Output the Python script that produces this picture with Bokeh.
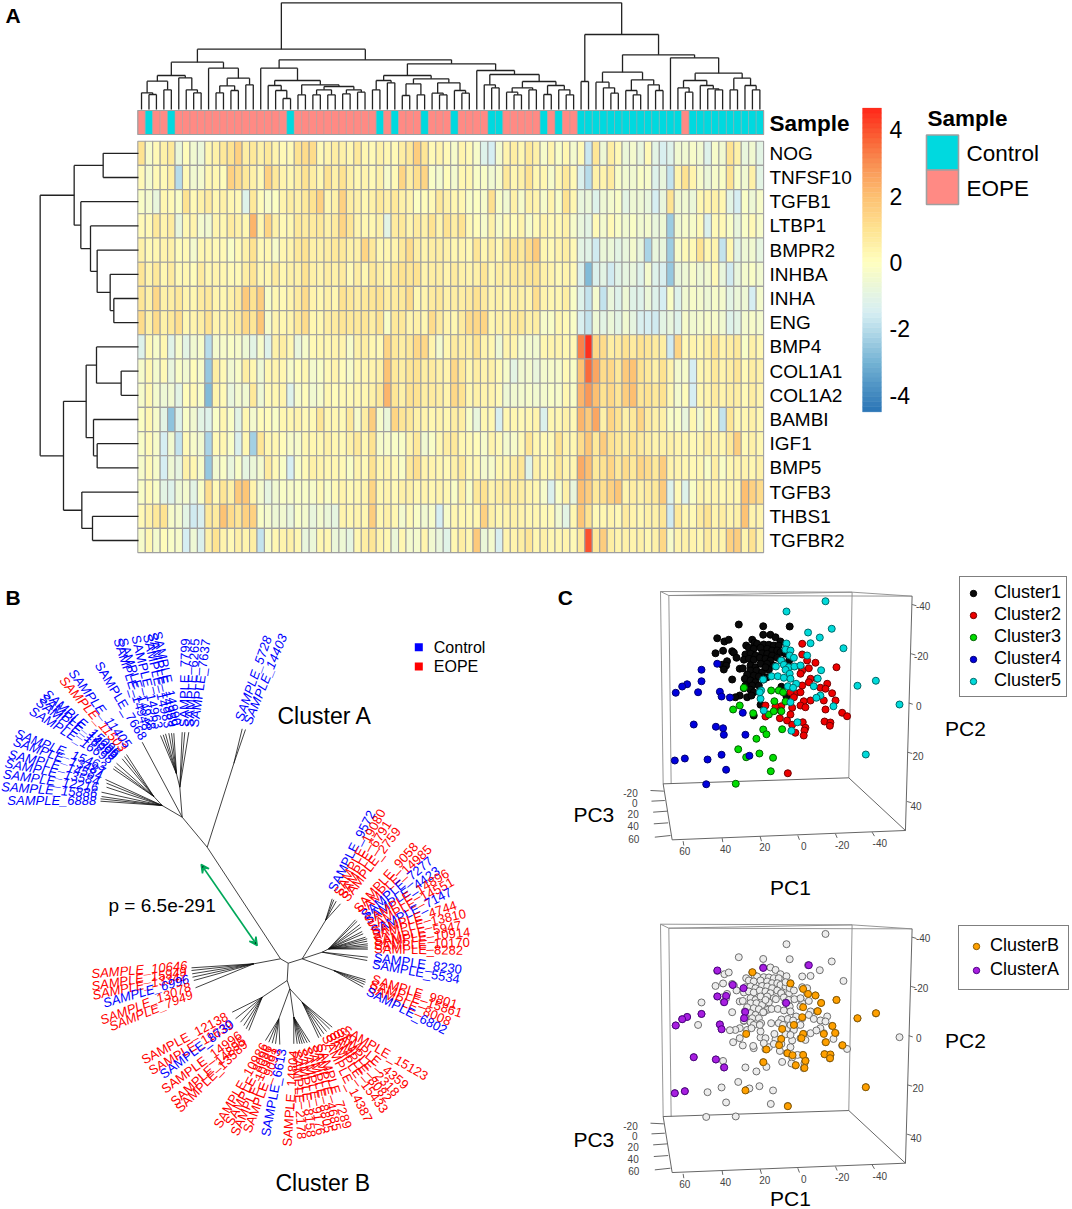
from bokeh.plotting import figure
from bokeh.layouts import column, row
from bokeh.models import Arrow, VeeHead, Legend, LegendItem, Range1d
from bokeh.core.properties import value
from bokeh.embed import file_html
from bokeh.resources import INLINE

# ---------------------------------------------------------------- panel A data
genes = ["NOG","TNFSF10","TGFB1","LTBP1","BMPR2","INHBA","INHA","ENG","BMP4","COL1A1","COL1A2","BAMBI","IGF1","BMP5","TGFB3","THBS1","TGFBR2"]
control_samples = [1,4,20,32,34,38,42,47,48,54,56,59,60,61,62,63,64,65,66,67,68,69,70,71,72,74,75,76,77,78,79,80,81,82,83]

NOG = [1,-.3,.2,.5,.8,-.7,.1,-.5,-.7,.3,.5,.8,1,1.5,.6,.8,.5,.8,.4,.2,.2,1,1.2,1.2,.2,.4,.6,.5,.3,.8,.3,.2,.5,.3,.2,.6,.8,1.6,.9,.2,.4,.2,-.3,.4,
       .2,-.3,-1.2,-1.5,-.4,.4,.6,.3,.8,.5,-.3,.4,-.2,.3,-.4,.2,-1.7,.9,-.6,.6,.2,-.7,-.4,-.8,.2,-1,-1.4,-1.2,-.5,-.5,-.3,-.5,-1.2,-.3,-.5,1,.5,-.8,-.5,-1]
TNFSF10 = [.2,-.4,.2,.2,.6,-2,.2,-.5,-.4,.3,.3,.1,1.5,1.2,.8,.5,.2,1.5,.8,.4,.3,.6,1,.6,.3,1,.5,1,.5,.3,.4,.2,.5,-.3,.2,1.4,.6,1.1,1.4,-.2,-.4,.1,-.4,.3,
           .3,-.2,-.2,-.5,-.3,.8,.3,.5,1,.3,.3,-.3,.3,.8,.2,-1.3,-2,.5,.4,.7,-.2,-.5,-.5,-.2,-.3,-1.2,-.8,-1.8,.4,1,.4,-.3,-.7,-.3,-.2,1,-.2,-.5,.5,-1]
TGFB1 = [-.2,-.4,-.8,.3,.2,-.2,1,.2,.5,.7,.3,.5,.3,.2,-1.2,.8,.1,-.3,-.1,.4,.6,.5,.8,1,1.5,.3,.5,1.5,.6,.5,.3,.5,.8,.5,.8,.5,.4,-.1,.1,.2,.8,.5,.3,.3,
         -.2,-.1,-.3,1.1,-.2,-.5,.5,-.3,.5,.4,-.3,.4,-.2,1,.3,-.8,-.7,-1.2,-.6,-.4,-.2,-1,-.6,-.6,-.8,-1.5,-.8,1,-.5,-.5,-.7,.3,.4,.5,.3,-1,-1.5,-.2,-.6,-.3]
LTBP1 = [.2,.2,.8,.4,.7,-.8,.3,.4,-.4,-.5,.4,.3,.7,.5,.3,2.2,.3,1.4,.5,.2,.3,.8,.7,.7,.8,.5,.7,1.4,.9,.4,.3,.3,.5,-1,.7,.8,.4,.7,.5,1,.4,1,.6,1,
         .2,.1,-.3,.5,-.3,.2,.1,.4,-.3,.2,.4,.2,.2,.5,-.3,-.8,-1,.2,-.4,.2,-.2,-.5,-.2,-.5,-.4,-.8,-.6,-2.4,-.5,-.3,-.3,.2,-1.3,.2,.2,-.2,-.8,-.2,.2,-.3]
BMPR2 = [.5,.2,.3,.4,.5,.1,.2,-.4,.3,.3,.2,.2,-.2,.2,.5,1,.2,.3,-.3,.3,.4,.8,1,.5,.5,.6,.8,.8,.5,.5,1.4,.8,.3,.3,.4,.8,1.2,.6,.4,.6,.6,.5,.3,.4,
         .2,.9,.3,.6,.2,.8,1,.8,1.2,1.7,.3,.2,.4,.6,.2,-1,-1.1,-1.6,-.7,-.7,-1,-.8,-.4,-.8,-2.2,-.8,-.8,-2.4,-.3,.2,.2,1,.3,.4,-1.8,.3,-1,-.6,-.5,-.9]
INHBA = [.9,.4,.8,.3,.7,.2,.3,.1,.7,.3,.4,.3,.2,.2,.6,.9,.3,.3,.7,.3,.5,.5,1,.5,.4,.6,.5,.7,.2,.6,.3,.8,.6,.3,.8,1,.9,1,.4,.6,.6,.4,.7,.5,
         .4,.5,.9,.3,.6,.5,.8,.7,.9,1,.5,.4,.2,.4,.2,-1.3,-2.8,-1.3,-1,-1.6,-1.1,-.9,-.8,-1.2,-.4,-1.2,-1.4,-2.5,-.8,-.6,-.3,-.6,-.5,.2,-.8,-1.6,-.8,-.4,-.2,-.5]
INHA = [.9,.5,1.3,.5,.6,.8,.4,.3,.7,.8,.4,.3,.5,.7,1.7,1,1.6,-.2,.3,.2,.4,.7,1.2,.4,.3,.5,.3,1,.8,.6,.8,.9,1,.6,.7,.8,1.2,.3,.4,.7,.8,.5,.6,.6,
        .7,1,.7,.4,.5,.3,.6,.5,.4,1.1,.4,.3,.3,.6,-.2,-1.2,-1.8,-.4,-1.8,-.8,-1.2,-.6,-1.1,-1.2,-.7,-1.2,-1.5,-.2,-1.2,-.5,-.3,-.4,-.6,-.3,-.4,-1,-.7,-.6,-1.5,-.4]
ENG = [1.2,.5,1.2,.5,.8,1.1,.3,.4,.6,1,.4,.4,.5,.7,1.3,.9,1.8,-.3,.4,.3,.4,.8,1.2,.3,.3,.6,.7,.9,.8,.8,.9,.6,1,-.2,.8,.8,.4,.5,.3,1.2,.7,.4,.3,.7,
       1.2,1.3,1.4,.3,.5,.4,.8,.8,.5,.6,-.3,-.2,.3,.2,-.2,-1.4,-1.8,-.6,-1,-.7,-1,-.5,-.9,-1.4,-1.5,-1.6,-1,-.8,-1.2,-.3,-.5,-.4,-.3,-.3,-.5,-1.2,-1,-.4,-.3,-.4]
BMP4 = [-1.2,.2,-.3,.3,-1.1,-.3,-1,-.5,-.3,-2,-.4,-.3,-.2,-.3,-.6,-1,-.3,-1.2,.5,.6,.3,-.8,-.3,.2,.3,.3,.4,.4,-.3,.5,.6,.3,.2,1.4,.8,.6,.8,1.3,1.3,.4,-.4,.3,.7,.6,
        .5,1,.4,.3,-.6,.4,.4,-.3,-.4,-.5,.3,.4,.4,.3,.2,3.2,4.5,1.3,1.2,.6,.7,1,.7,1,.9,.7,.6,-1.6,1.4,.2,.4,.3,.5,1,.4,.6,.8,-.2,.5,.3]
COL1A1 = [-.3,.3,-.4,.2,-.8,-.2,-.5,.1,-.3,-2.5,.6,.2,-.5,-.2,.6,.3,-.6,.3,.4,.3,-.3,.1,.3,-.4,-.2,.2,.4,.1,-.3,.3,.3,.4,.5,1.9,.8,.6,.9,1,.6,.7,.5,.4,1.3,.8,
          .3,.6,.4,.5,.2,-.3,-1,-.5,-.4,-.8,-.4,-.3,-.3,.2,-.2,1.9,3.6,2.5,1.2,1.3,.8,1.7,1.9,1,.8,.5,1,.4,-.4,-.3,-1.5,.3,.4,.8,.4,.6,.9,.2,.6,.5]
COL1A2 = [-.3,.3,-.4,-.6,-.5,-1,.1,.2,-.2,-2.8,.4,.2,-.8,-.4,-.5,.8,-.6,.2,.3,.4,-1.2,-.3,.1,-.5,-.3,.3,.1,.2,.2,.3,.3,.5,.8,2.2,.9,.5,1,1,.6,.7,.6,.4,1.3,1,
          .3,.5,.4,.4,.2,-.6,-.5,-.4,-.3,-.5,-.4,-.2,-.3,.3,-.2,2.2,2.8,2,1,1.3,.9,1.6,2,.9,1,.8,1,.3,-.4,.1,-1.5,.3,.4,.7,.4,.6,.6,.2,.6,.4]
BAMBI = [-.1,.3,-.3,-1,-2.6,-1.2,-.2,-.5,-1,-1.2,-.2,.3,-.2,-1,.3,-.4,.1,.1,-.2,.3,.3,.4,.2,.2,.9,.3,.3,.2,.8,-.3,.6,1.6,-.3,-.7,1.4,.9,.8,.5,.4,.3,.4,.3,.6,.6,
         -.2,-.8,.3,.3,-1.4,.3,.3,.2,.3,.4,-1.3,.3,.3,.5,.2,2.2,1.7,2.5,.5,1.4,1,.5,.8,1.4,.7,.5,.5,-.2,-.2,-.8,.3,-.5,.3,.2,-1.8,.9,.3,.3,.5,.3]
IGF1 = [-.2,.2,-.3,-1.5,-.5,-1.8,.2,-.3,-.5,-2.2,.2,.3,-.2,-1.3,.3,-2.3,.9,.3,.3,.1,-.3,-.3,.3,.3,.3,.5,.3,.2,.5,.8,.3,1,-.3,-.3,-.2,-.2,.4,.8,-.5,-.2,.3,.6,.8,.3,
        .2,.1,-.3,.4,.2,-.4,-.3,.2,.9,.3,.2,.2,1,.4,.3,1.2,1.8,.8,1.6,1,.8,.6,1,.7,.6,.4,.5,.5,.4,.3,.2,.3,.6,.4,.3,.8,1.6,.2,.5,.3]
BMP5 = [-.3,.2,-.3,-1.5,-.6,-.9,.5,.3,-.3,-2.5,-.5,-.2,-.8,-.2,-.9,-.7,-.4,.7,.2,-.2,-1.5,-.2,.2,.5,.4,.3,.3,.2,-.2,.4,.2,1,.3,.4,.2,-.2,.8,1.1,.4,.4,.3,.2,.5,.8,
        .2,.3,-.4,-.3,.3,.3,.6,.9,-1.1,.5,.3,.3,.8,.4,.3,2.4,2,.8,1,1.4,.8,1.2,.8,1.4,1.2,.8,1.6,.4,.4,.3,.2,.3,-.2,.6,-.2,.3,.4,.4,.3,.5]
TGFB3 = [-.2,.2,-.2,-1,-1.2,-.6,-.4,-1,-.2,1.1,.2,.9,.5,1.7,1.8,.4,-.4,-.9,-.5,-.2,-.3,-.2,-.2,-.3,.2,-.2,.2,.4,.2,.3,.4,1.4,.3,.4,.2,.5,.5,.3,.4,.3,.4,.3,-.2,.6,
         -.2,.8,1,.4,.6,.7,.6,.6,.4,.3,-.3,-1.3,-.2,.5,-.8,2,1.6,.8,1.1,1.5,1.8,.4,.6,.5,.7,.8,1.7,-1.2,.2,-1.2,-.2,.4,.3,.4,.2,.4,.3,2,1.5,1.2]
THBS1 = [.2,.5,.8,1,-.3,-.4,-1,-1.6,-1.4,.8,.7,1.9,1.2,.9,1.5,1.5,-.2,-.4,-.6,-.5,-.8,-.2,-.4,-.8,-.4,-.7,-.9,.4,.3,.4,.3,1.6,.3,.5,.3,-.4,.2,-.2,-.5,-.3,-1.5,-.3,.3,.3,
         .2,.3,1.5,.5,.3,.4,.5,.4,.3,.3,.2,.2,-.5,-1,.3,1.8,1,.2,.3,.4,.2,.7,.4,.3,.5,.5,.9,-1.6,.8,.3,.2,.7,1,.4,.6,.4,.5,1.9,.4,.4]
TGFBR2 = [-.3,.3,-.4,.1,-.2,-.3,-1.5,-.6,-1.3,.5,1,.4,.2,.5,.4,.6,-1.8,-.3,.3,.4,.5,.3,-.8,-.7,.3,.3,-.7,-.6,-.9,.3,.6,.9,.4,.3,-.7,.3,-.4,-.4,.4,-.5,-.8,-1.1,.3,.6,
          .3,1.7,-.7,-.4,-1.4,.4,.4,.6,.9,.3,.5,.3,.3,.4,.2,.8,4,.8,1.6,.6,.4,.5,.4,.5,.3,.5,1.3,-.3,.4,.5,.4,.3,.7,.4,.4,1.5,1.6,.4,1,.4]
heat_rows = [NOG,TNFSF10,TGFB1,LTBP1,BMPR2,INHBA,INHA,ENG,BMP4,COL1A1,COL1A2,BAMBI,IGF1,BMP5,TGFB3,THBS1,TGFBR2]
colorbar_ticks = [4,2,0,-2,-4]

def N(h, a, b):
    return (h, a, b)

col_tree = N(320,
  N(181,
    N(142,
      N(102, N(85, N(50,0,N(45,1,2)), N(59,3,4)), N(95,5,N(59,6,N(50,7,8)))),
      N(124, 9, N(94, N(71,N(50,10,11),N(57,12,13)), N(74,14,15)))),
    N(149,
      N(124, 16, N(87, N(72,17,N(57,18,N(33,19,20))),
                   N(74, N(44,21,22), N(69, N(59,N(44,23,24),N(44,25,26)), N(59,N(47,27,28),N(52,29,30)))))),
      N(137,
        N(102, N(87,N(59,31,32),N(80,33,34)),
               N(92, N(77,N(42,35,36),N(44,37,38)), N(80,N(49,39,N(44,40,41)),N(57,42,N(49,43,44))))),
        N(117, 45, N(105, N(74,46,N(65,47,48)),
                     N(84, N(65,N(52,49,N(44,50,51)),N(59,52,53)), N(72,N(45,54,55),N(59,56,N(44,57,58))))))))),
  N(225, N(84,59,60),
    N(164,
      N(112, N(82,61,N(65,62,N(49,63,64))), N(89,N(57,65,N(44,66,67)),N(74,68,N(57,69,70)))),
      N(155, 71, N(109,
          N(87, N(65,72,N(52,73,74)), N(72,75,N(62,76,N(59,77,78)))),
          N(94, N(59,79,80), N(72,81,N(59,82,83))))))))
row_tree = N(295,
  N(193, N(106,0,1), N(173,2,N(144,3,N(124,4,N(85,5,N(74,6,7)))))),
  N(225,
    N(157, N(126,8,N(52,9,10)), N(135,11,N(124,12,13))),
    N(170,14,N(138,15,16))))

# ---------------------------------------------------------------- panel C data
cluster1_pc1 = [31.7,18.8,4.8,18.8,15,43.1,39.3,37,12.3,9.7,24.6,23.4,27.8,22,18.5,15.8,13.2,10.6,26.4,23.8,20.2,16.7,14.1,11.4,44,40,35.2,34.3,28.2,25.5,22.9,19.4,16.7,14.1,9.7,7,32.9,29,26.4,23.8,20.6,17.6,15,11.4,9.3,37.9,40.5,38.4,39.6,31.2,29.6,25.5,22.9,20.2,16.7,13.2,5.1,25.5,22.4,19.4,15.8,23.8,27.3,21.1,16.7,35.2,28.5,25.5,22.9,18.5,28.2,24.6,29,25.5,23.8,9.2,31.2,33.5,27.3,25,6.5,20.2,23.8,21.1,17.6]
cluster1_pc2 = [-32.4,-31.7,-31.6,-28.3,-28.3,-26.9,-25.6,-26.3,-27.3,-25.6,-26.3,-25.1,-24,-24.7,-24.4,-24.3,-24,-24,-23.1,-22.7,-23.1,-22.7,-22,-22,-20.9,-21.9,-21.7,-21.1,-20.4,-20.7,-20,-20.9,-20.7,-20,-21.3,-20.7,-19.1,-18.3,-18.7,-18.3,-19.1,-18.7,-18,-19.1,-18,-17.7,-16.3,-16,-14.4,-14.7,-14.9,-16,-15.3,-16.7,-16.7,-16,-18,-14,-14,-13.3,-14.3,-12,-12.4,-11.6,-11.3,-10.4,-10.7,-10,-9.3,-10.4,-8,-8,-6.9,-6.3,-5.3,-7.5,-4,-3.3,-3.3,-4,-3.6,-.3,4,-8,-15.3]
cluster2_pc1 = [-1.8,-1.8,-4.4,-8.8,-.9,-5.3,-19.9,-1.8,-.9,-6.2,-5.3,-9.7,-15,-11.4,-14.1,-1.8,-17.6,1.8,-.9,4.4,2.6,-19.4,-6.2,-2.6,-.9,-3.5,3.5,9.3,12.3,17.6,9.7,-14.1,-13.2,-22.9,-25.5,4.4,10,17.6,6.2,3.5,-2.1,-13.6,-16.7,-16.4,-3.5,1.8,-3,-2.6,5.8]
cluster2_pc2 = [-24.7,-20.4,-18,-17.1,-15.7,-14.9,-15.3,-14,-12.7,-10.7,-9.3,-10.7,-8.7,-7.1,-6.7,-8,-4.9,-4.9,-5.3,-5.3,-3.3,-2,-2,-1.7,0,.7,.9,.3,.4,0,2,1.6,-2,2.9,4.3,3.6,5.1,4.4,6,7.7,6.7,6.4,6.8,8.1,8.9,10.9,10,12,27.1]
cluster3_pc1 = [14.6,10.6,8.3,12.9,7,31.2,34.7,24.1,15.8,13.2,9.2,18.8,17.1,8.8,22.4,32,27.8,20.8,13.6,14.8,33.3,29]
cluster3_pc2 = [-6,-6,-5.3,-1.7,-1.6,0,1.6,3.1,3.6,2.3,2.3,9.6,11.5,9.5,13.3,17.5,20.7,19.2,20.9,26.3,31.3,-7.1]
cluster4_pc1 = [43.1,51.4,51.4,59,61.6,65,53.2,41.7,40.8,36.4,29.6,55.5,43.8,40,39.6,28.2,40.8,26.1,60.2,65.5,48.2,38.4,48.9]
cluster4_pc2 = [-16.7,-14.3,-9.7,-8.5,-7.6,-5.1,-5.3,-5.5,-3.6,-3.2,2.9,7.6,8.5,9.1,11.7,11.7,19.7,20.1,21.2,22,21.6,25.7,31.5]
cluster5_pc1 = [-14.1,6.5,-17.4,-4.9,-11.1,-6.2,6.5,-23.6,7,4.4,4.8,-4.4,2.6,9.3,7.9,12.1,5.3,2.3,-.9,7,-11.8,4.8,14.4,11.1,7.9,18.8,4.4,-10,1.4,5.8,-7.9,19.9,3,-40.7,-31,-11.4,-9.3,20.2,-53.2,4.4,-18.3,18.5,.7,3.9,-35.4,20.6]
cluster5_pc2 = [-41.7,-37.6,-30.7,-29.2,-27.2,-24.9,-24.8,-22.9,-22.4,-22,-20,-20,-19.1,-18,-16.3,-15.6,-15.3,-15.6,-16,-14.3,-14.1,-12.7,-11.7,-11.7,-11.1,-10.4,-10.7,-10.8,-8.7,-7.7,-7.7,-6,-7.1,-9.9,-7.9,-4,-3.1,-2.7,-.4,-1.3,.3,2,6.7,10.1,19.6,-5.3]
clusterB_pc1 = [24.5,4.4,-2.3,-4.9,-8.8,-11.8,-19.9,-2.3,-10,-1.8,-31,-40.8,2.6,-17.8,-2.3,-1.4,-13.2,-19.2,9.3,-14.3,10.4,-23.1,17.1,6,3.3,-2.3,-13.6,-16.7,-16.5,-3.5,18.7,1.6,-3,28.2,-35.4,5.8,27.8,8.8]
clusterB_pc2 = [-26.4,-21.9,-19.7,-17.7,-17.1,-14.1,-15.3,-12.4,-10.8,-8.4,-8,-10,-5.3,-4.9,-1.7,0,-1.7,-2.1,.3,1.6,2.8,2.8,4.5,6,6.8,6.7,6.4,6.5,8,9.1,9.6,10.8,11.9,20.9,19.6,27.2,-1.7,-3.7]
clusterA_pc1 = [43,18.8,-5.3,34.9,29.2,43,38.4,39.4,6.7,51.4,59,61.6,65,28.3,28.9,41.7,40.8,55.5,43.8,39.4,60.2,65.5]
clusterA_pc2 = [-27.1,-28.1,-29.2,-21.3,-20,-16.7,-16.9,-14.4,-14.1,-9.7,-8.5,-7.6,-5.1,-10.5,-8,-5.5,-3.6,7.6,8.5,11.7,21.2,22]
pc1_ticks = [60,40,20,0,-20,-40]
pc2_ticks = [-40,-20,0,20,40]
pc3_ticks = [-20,0,20,40,60]

# ---------------------------------------------------------------- panel B data
BLUE, RED = "#0000FF", "#FF0000"
b_groups = [
 dict(tx=[241.7,245], ty=[728.3,729], hub=(233.3,763), root=(206.7,846.7), align="left", italic=True,
      names=["SAMPLE_5728","SAMPLE_14403"], cols=[BLUE,BLUE], lx=[238.3,246.7], ly=[720,723.3], ang=[71,68]),
 dict(tx=[181.7,184.3,188.3], ty=[731.7,731.7,731.7], hub=(179.3,786.7), root=(181.7,816.7), align="left", italic=False,
      names=["SAMPLE_7799","SAMPLE_6265","SAMPLE_7637"], cols=[BLUE]*3, lx=[183.3,188.3,193.3], ly=[726.7]*3, ang=[89,86,82]),
 dict(tx=[160,162.7,165,168.3,171,173.3], ty=[735,734.3,733.3,732.7,732.7,732.7], hub=(176,773.3), root=(179.3,786.7), align="right", italic=False,
      names=["SAMPLE_14948","SAMPLE_14938","SAMPLE_14963","SAMPLE_14983","SAMPLE_14959","SAMPLE_14990"], cols=[BLUE]*6,
      lx=[146.7,151.7,158.3,168.3,173.3,176.7], ly=[729.3,729.3,728.3,727.3,726,725], ang=[-72,-72,-76,-77,-77,-78]),
 dict(tx=[141.7], ty=[741.7], hub=None, root=(181.7,816.7), align="right", italic=False,
      names=["SAMPLE_7668"], cols=[BLUE], lx=[143.3], ly=[738.3], ang=[-59]),
 dict(tx=[100,100,101,101,106,106,105], ty=[800.7,798.3,796,791.7,786.7,782.7,779], hub=(161.7,805), root=(181.7,816.7), align="right", italic=True,
      names=["SAMPLE_6888","SAMPLE_15886","SAMPLE_12216","SAMPLE_13584","SAMPLE_14584","SAMPLE_13487","SAMPLE_15463"], cols=[BLUE]*7,
      lx=[95.7,96.7,97.7,99,101.7,104,105], ly=[800,792.7,786.7,780.7,775,771.7,766.7], ang=[0,-4,-8,-11,-13,-19,-21]),
 dict(tx=[112.7,114,116,121.7,124,126], ty=[768.3,766,762.7,758.3,756,754], hub=(153.3,796), root=(161.7,805), align="right", italic=True,
      names=["SAMPLE_16698","SAMPLE_16099","SAMPLE_14305","SAMPLE_15096","SAMPLE_11503","SAMPLE_11405"], cols=[BLUE,BLUE,BLUE,BLUE,RED,BLUE],
      lx=[111.7,115,116.7,118.3,124,128.3], ly=[760,756.7,755,753.3,749.3,746], ang=[-32,-36,-38,-40,-49,-53]),
 dict(tx=[191,191,191.7,192,193.3,195], ty=[967.3,970,973.3,976.7,980,987.3], hub=(253.3,963.3), root=(280,958.3), align="right", italic=True,
      names=["SAMPLE_10646","SAMPLE_15949","SAMPLE_13342","SAMPLE_6996","SAMPLE_13078","SAMPLE_7949"], cols=[RED,RED,RED,BLUE,RED,RED],
      lx=[186.7,186,186,188.3,190,191.7], ly=[965,970.7,975,978.3,985.7,993.3], ang=[5,9,12,16,21,22]),
 dict(tx=[331.7,333.3,335.7,340], ty=[898.3,899.3,900.7,903.3], hub=(325,920), root=(301.7,958.3), align="left", italic=False,
      names=["SAMPLE_9572","SAMPLE_19080","SAMPLE_6791","SAMPLE_2759"], cols=[BLUE,RED,RED,RED],
      lx=[331,336.7,340.7,344], ly=[890,894.3,896.7,899.3], ang=[63,62,58,53]),
 dict(tx=[355,356.7,359.3,360.7,361.7,362.7,365,366.7,366.7,367.3,367.3,367.3,367.3],
      ty=[919.3,920.7,924,926.7,931,933.3,936.7,938.3,940.7,943.3,945.3,947.3,948.7], hub=(328.3,948.3), root=(321.7,951.7), align="left", italic=False,
      names=["SAMPLE_9058","SAMPLE_14985","SAMPLE_7277","SAMPLE_4423","SAMPLE_14896","SAMPLE_14551","SAMPLE_7147","SAMPLE_4744","SAMPLE_13810","SAMPLE_5947","SAMPLE_10914","SAMPLE_10170","SAMPLE_8282"],
      cols=[RED,RED,BLUE,BLUE,RED,RED,BLUE,RED,RED,RED,RED,RED,RED],
      lx=[355.7,359,362.3,365,365,368.3,371.3,371.3,371.7,373.3,374,373.3,373.7],
      ly=[910,912.3,915.7,920,921.3,927,931,931.7,934.3,940,941.3,945,948.3], ang=[48,43,40,35,31,29,27,18,13,10,6,2,-1]),
 dict(tx=[367.3,366.7], ty=[956.7,960], hub=None, root=(321.7,951.7), align="left", italic=False,
      names=["SAMPLE_8230","SAMPLE_5534"], cols=[BLUE,BLUE], lx=[373.3,371.7], ly=[956.7,963.3], ang=[-8,-10]),
 dict(tx=[365,365,364,362.7], ty=[979.3,981.7,984,986.7], hub=(333.3,970), root=(301.7,958.3), align="left", italic=False,
      names=["SAMPLE_9801","SAMPLE_15861","SAMPLE_8008","SAMPLE_6802"], cols=[RED,RED,RED,BLUE],
      lx=[371.7,370,368.3,366.7], ly=[978.3,983.3,986.7,990], ang=[-17,-18,-23,-27]),
 dict(tx=[231.7,235,240,243.3,245.7,248.3], ty=[1011.7,1018.3,1021.7,1025,1028.3,1030], hub=(261.7,996.7), root=(286.7,980), align="right", italic=False,
      names=["SAMPLE_12138","SAMPLE_11639","SAMPLE_8730","SAMPLE_14996","SAMPLE_14895","SAMPLE_13589"], cols=[RED,RED,BLUE,RED,RED,RED],
      lx=[226.7,231.7,231.7,240,243.3,245], ly=[1015,1023.3,1021.7,1033.3,1038.3,1041.7], ang=[28,30,37,36,42,45]),
 dict(tx=[265,268.3,271.7,275,279.3], ty=[1040,1041.7,1042.7,1043.3,1044], hub=(278.3,1018.3), root=(289.3,988.3), align="right", italic=False,
      names=["SAMPLE_10986","SAMPLE_8096","SAMPLE_10981","SAMPLE_9093","SAMPLE_6613"], cols=[RED,RED,RED,RED,BLUE],
      lx=[264.3,268.3,272.7,276.7,281.7], ly=[1043.3,1045,1046.7,1048.3,1048.3], ang=[60,63,66,70,79]),
 dict(tx=[293.3], ty=[1043.3], hub=(293.3,1016.7), root=(289.3,988.3), align="right", italic=False,
      names=["SAMPLE_14804"], cols=[RED], lx=[293.3], ly=[1050], ang=[86]),
 dict(tx=[296.7,299.3,301.7,304,306.7,309.3], ty=[1043.3,1043.3,1043.3,1042.7,1042.3,1041.7], hub=(293.3,1016.7), root=(289.3,988.3), align="left", italic=False,
      names=["SAMPLE_2178","SAMPLE_8158","SAMPLE_9176","SAMPLE_8805","SAMPLE_4685","SAMPLE_7289"], cols=[RED]*6,
      lx=[296.7,301.7,306.7,311.7,316.7,320], ly=[1050,1048.3,1046.7,1045,1043.3,1043.3], ang=[-87,-84,-81,-79,-77,-72]),
 dict(tx=[318.3,320.7,323.3,326,329.3,331.7], ty=[1037.3,1036,1033.3,1031,1028.7,1026.7], hub=(301.7,1001.7), root=(289.3,988.3), align="left", italic=False,
      names=["SAMPLE_14387","SAMPLE_15433","SAMPLE_8082","SAMPLE_2318","SAMPLE_4359","SAMPLE_15123"], cols=[RED]*6,
      lx=[325,328.3,331.7,335,338.3,343.3], ly=[1035,1033.3,1031.7,1030,1029,1028.3], ang=[-63,-54,-50,-46,-40,-30]),
]
b_backbone_x = [[181.7,206.7],[206.7,280],[280,287.7],[287.7,301.7],[287.7,286.7],[286.7,289.3],[301.7,321.7]]
b_backbone_y = [[816.7,846.7],[846.7,958.3],[958.3,962.7],[962.7,958.3],[962.7,980],[980,988.3],[958.3,951.7]]

# ---------------------------------------------------------------- helpers
FONT = value("Liberation Sans")
TOTAL_W, TOTAL_H, AH = 1072, 1209, 570
BW = 549
CW = TOTAL_W - BW
C1H, C2H = 330, 309

def lerp_colour(v):
    stops = [(-4.5,(42,116,182)),(-3,(116,179,212)),(-2,(183,220,234)),(-1.5,(214,238,242)),(-1,(227,244,228)),
             (-.5,(241,249,208)),(0,(255,255,191)),(1,(254,227,145)),(2,(253,191,113)),(3,(249,142,82)),(3.7,(250,100,55)),(4.63,(255,40,26))]
    v = max(-4.5, min(4.63, v))
    for (a, ca), (b, cb) in zip(stops, stops[1:]):
        if v <= b:
            t = (v - a) / (b - a)
            return "#%02x%02x%02x" % tuple(round(ca[i] + (cb[i] - ca[i]) * t) for i in range(3))
    return "#ff281a"

def base_fig(w, h, xr, yr):
    p = figure(width=w, height=h, x_range=Range1d(*xr), y_range=Range1d(*yr), output_backend="svg",
               toolbar_location=None, min_border=0, outline_line_color=None, background_fill_color="white",
               border_fill_color="white")
    p.axis.visible = False
    p.grid.visible = False
    return p

def label(p, x, y, t, size, align="left", weight="normal", color="black", angle=None, baseline="middle"):
    p.text(x=x, y=y, text=t, text_font=FONT, text_font_size=size, text_align=align, text_baseline=baseline,
           text_font_style=weight, text_color=color, angle=angle if angle is not None else 0, angle_units="deg")

# ---------------------------------------------------------------- panel A
CELL_W, CELL_H, X0, Y0 = 7.45, 24.2, 137.3, 140.7
xp = lambda px: (px - X0) / CELL_W
yp = lambda py: (py - Y0) / CELL_H
A = base_fig(TOTAL_W, AH, (xp(0), xp(TOTAL_W)), (yp(AH), yp(0)))

n_cols, n_rows = len(NOG), len(genes)
l, r, t, b, c = [], [], [], [], []
for ri, vals in enumerate(heat_rows):
    assert len(vals) == n_cols, genes[ri]
    for ci, v in enumerate(vals):
        l.append(ci); r.append(ci + 1); t.append(ri); b.append(ri + 1); c.append(lerp_colour(v))
A.quad(left=l, right=r, top=t, bottom=b, fill_color=c, line_color="#a0a0a0", line_width=1.1)

anno = ["#00D9DF" if i in control_samples else "#FF8A84" for i in range(n_cols)]
A.quad(left=list(range(n_cols)), right=list(range(1, n_cols + 1)), top=[yp(110)] * n_cols, bottom=[yp(134)] * n_cols,
       fill_color=anno, line_color="#a0a0a0", line_width=0.5)
A.quad(left=[0], right=[n_cols], top=[yp(110)], bottom=[yp(134)], fill_color=None, line_color="#a0a0a0", line_width=1.1)

def walk(node, seg):
    if isinstance(node, int):
        return node + 0.5, 0
    h, a, b_ = node
    pa, ha = walk(a, seg)
    pb, hb = walk(b_, seg)
    seg.append(((pa, ha), (pa, h)))
    seg.append(((pb, hb), (pb, h)))
    seg.append(((pa, h), (pb, h)))
    return (pa + pb) / 2, h

seg = []; walk(col_tree, seg)
A.multi_line(xs=[[s[0][0], s[1][0]] for s in seg], ys=[[yp(109 - s[0][1] / 3), yp(109 - s[1][1] / 3)] for s in seg],
             line_color="#222222", line_width=1.3)
seg = []; walk(row_tree, seg)
A.multi_line(xs=[[xp(138 - s[0][1] / 3), xp(138 - s[1][1] / 3)] for s in seg], ys=[[s[0][0], s[1][0]] for s in seg],
             line_color="#222222", line_width=1.3)

label(A, [xp(769)] * n_rows, [i + 0.5 for i in range(n_rows)], genes, "19px")
label(A, [xp(769)], [yp(123)], ["Sample"], "22.5px", weight="bold")

cb_val = [-4.5 + i * 0.15 for i in range(61)]
cb_py = lambda v: 262 - 33.2 * v
A.quad(left=[xp(862)] * 61, right=[xp(881)] * 61, bottom=[yp(cb_py(v)) for v in cb_val], top=[yp(cb_py(v + 0.15)) for v in cb_val],
       fill_color=[lerp_colour(v + 0.07) for v in cb_val], line_color=[lerp_colour(v + 0.07) for v in cb_val], line_width=0.3)
label(A, [xp(889)] * 5, [yp(cb_py(v)) for v in colorbar_ticks], [str(v) for v in colorbar_ticks], "23px")

label(A, [xp(927)], [yp(118)], ["Sample"], "22.5px", weight="bold")
A.quad(left=[xp(926)] * 2, right=[xp(958)] * 2, top=[yp(134.5), yp(169.5)], bottom=[yp(169.5), yp(204)],
       fill_color=["#00D9DF", "#FF8A84"], line_color="#a0a0a0", line_width=1.6)
label(A, [xp(966)] * 2, [yp(153), yp(188)], ["Control", "EOPE"], "22.5px")
label(A, [xp(5)], [yp(15)], ["A"], "21px", weight="bold")

# ---------------------------------------------------------------- panel B
B = base_fig(BW, TOTAL_H - AH, (0, BW), (TOTAL_H, AH))
xs, ys = list(b_backbone_x), list(b_backbone_y)
seen = set()
for g in b_groups:
    if g["hub"] is not None:
        if g["hub"] not in seen:
            xs.append([g["root"][0], g["hub"][0]]); ys.append([g["root"][1], g["hub"][1]])
            seen.add(g["hub"])
        start = g["hub"]
    else:
        start = g["root"]
    for tx, ty in zip(g["tx"], g["ty"]):
        xs.append([start[0], tx]); ys.append([start[1], ty])
B.multi_line(xs=xs, ys=ys, line_color="#111111", line_width=0.8)
for g in b_groups:
    B.text(x=g["lx"], y=g["ly"], text=g["names"], text_color=g["cols"], angle=g["ang"], angle_units="deg",
           text_font=FONT, text_font_size="13px", text_align=g["align"], text_baseline="middle",
           text_font_style="italic" if g["italic"] else "normal")

arrow_col = "#00A85A"
B.add_layout(Arrow(x_start=200.7, y_start=864, x_end=256.7, y_end=945, line_color=arrow_col, line_width=1.6,
                   start=VeeHead(size=8, line_color=arrow_col, line_width=1.6),
                   end=VeeHead(size=8, line_color=arrow_col, line_width=1.6)))
B.scatter(x=[418.3, 418.3], y=[646.7, 666], size=8, marker="square", fill_color=[BLUE, RED], line_color=None)
label(B, [433.3, 433.3], [647, 666], ["Control", "EOPE"], "16px")
label(B, [277], [715], ["Cluster A"], "23px")
label(B, [275], [1182], ["Cluster B"], "23px")
label(B, [108], [905], ["p = 6.5e-291"], "19px")
label(B, [5], [597], ["B"], "21px", weight="bold")

# ---------------------------------------------------------------- panel C
PX_X0, PX_PER_PC1, PX_PER_PC2 = 798.3, 1.893, 2.5
zx = lambda z: (745 - z) / 5.68
zy = lambda z: (z - 405) / 7.5
corner = {k: (zx(a), zy(b_)) for k, (a, b_) in dict(A=(330,63), B=(355,75), C=(905,65), D=(1085,77), E=(338,640), F=(362,640),
                                                   G=(895,622), H=(1065,780), I=(365,808)).items()}
edges_light = ["AC","AB","BC","CD","BD","AE","BF","CG"]
edges_dark = ["EG","GH","EI","IH","DH"]

def frame_3d(p):
    for edges, col in ((edges_light, "#8a8a8a"), (edges_dark, "#555555")):
        p.multi_line(xs=[[corner[e[0]][0], corner[e[1]][0]] for e in edges], ys=[[corner[e[0]][1], corner[e[1]][1]] for e in edges],
                     line_color=col, line_width=0.9)
    t1 = [1085, 1082, 1075, 1072, 1070]; t2 = [1098, 1095, 1087, 1085, 1083]
    d = [-0.4, -0.7, -1, -1.3, -1.6]
    lab = [1118, 1112, 1105, 1103, 1097]
    p.multi_line(xs=[[zx(a), zx(b_)] for a, b_ in zip(t1, t2)], ys=[[v + e, v + e + 0.5] for v, e in zip(pc2_ticks, d)], line_color="#555555", line_width=0.9)
    label(p, [zx(z) for z in lab], pc2_ticks, [str(v) for v in pc2_ticks], "10px", align="center", color="#444444")
    x1 = [398, 515, 629, 742, 855, 965]; y1 = [812, 803, 798, 795, 790, 785]
    x2 = [400, 517, 633, 747, 860, 972]; y2 = [825, 815, 812, 808, 802, 797]
    lx = [403, 525, 643, 760, 875, 988]; ly = [842, 835, 830, 827, 822, 817]
    p.multi_line(xs=[[zx(a), zx(b_)] for a, b_ in zip(x1, x2)], ys=[[zy(a), zy(b_)] for a, b_ in zip(y1, y2)], line_color="#555555", line_width=0.9)
    label(p, [zx(z) for z in lx], [zy(z) for z in ly], [str(v) for v in pc1_ticks], "10px", align="center", color="#444444")
    x1 = [300, 303, 308, 310, 313]; y1 = [660, 692, 725, 760, 800]
    x2 = [340, 343, 350, 353, 360]; y2 = [662, 690, 722, 757, 795]
    lx = [240, 253, 248, 248, 250]; ly = [667, 698, 731, 766, 804]
    p.multi_line(xs=[[zx(a), zx(b_)] for a, b_ in zip(x1, x2)], ys=[[zy(a), zy(b_)] for a, b_ in zip(y1, y2)], line_color="#555555", line_width=0.9)
    label(p, [zx(z) for z in lx], [zy(z) for z in ly], [str(v) for v in pc3_ticks], "10px", align="center", color="#444444")

xr = ((PX_X0 - BW) / PX_PER_PC1, (PX_X0 - TOTAL_W) / PX_PER_PC1)
SZ = 7

# --- upper plot
C1 = base_fig(CW, C1H, xr, ((AH + C1H - 705) / PX_PER_PC2, (AH - 705) / PX_PER_PC2))
frame_3d(C1)
series = [("Cluster1", cluster1_pc1, cluster1_pc2, "#0a0a0a", "#000000"),
          ("Cluster2", cluster2_pc1, cluster2_pc2, "#EE0000", "#700000"),
          ("Cluster3", cluster3_pc1, cluster3_pc2, "#00DD00", "#006000"),
          ("Cluster4", cluster4_pc1, cluster4_pc2, "#0000DD", "#000070"),
          ("Cluster5", cluster5_pc1, cluster5_pc2, "#00DADA", "#006868")]
items = []
for name, x, y, fc, lc in series:
    rend = C1.scatter(x=x, y=y, size=SZ, fill_color=fc, line_color=lc, line_width=1)
    items.append(LegendItem(label=name, renderers=[rend]))
C1.add_layout(Legend(items=items, location=(410, 203), border_line_color="black", border_line_width=1,
                     label_text_font="Liberation Sans", label_text_font_size="18px", label_text_color="black",
                     label_height=20, glyph_height=20, glyph_width=16, padding=5, spacing=1, margin=0,
                     label_standoff=13, background_fill_alpha=1))
label(C1, [zx(720)], [zy(950)], ["PC1"], "21px", align="center")
label(C1, [zx(130)], [zy(733)], ["PC3"], "21px", align="center")
label(C1, [zx(1245)], [zy(475)], ["PC2"], "21px", align="center")
label(C1, [zx(22)], [zy(80)], ["C"], "21px", weight="bold")

# --- lower plot
C2 = base_fig(CW, C2H, xr, ((TOTAL_H - 1037.7) / PX_PER_PC2, (AH + C1H - 1037.7) / PX_PER_PC2))
frame_3d(C2)
all_x = cluster1_pc1 + cluster2_pc1 + cluster3_pc1 + cluster4_pc1 + cluster5_pc1
all_y = cluster1_pc2 + cluster2_pc2 + cluster3_pc2 + cluster4_pc2 + cluster5_pc2
C2.scatter(x=all_x, y=all_y, size=SZ, fill_color="#EDEDED", line_color="#6e6e6e", line_width=1)
rb = C2.scatter(x=clusterB_pc1, y=clusterB_pc2, size=SZ, fill_color="#FFA000", line_color="#8a5a00", line_width=1)
ra = C2.scatter(x=clusterA_pc1, y=clusterA_pc2, size=SZ, fill_color="#A81FE0", line_color="#4b0082", line_width=1)
C2.add_layout(Legend(items=[LegendItem(label="ClusterB", renderers=[rb]), LegendItem(label="ClusterA", renderers=[ra])],
                     location=(409, TOTAL_H - 990), border_line_color="black", border_line_width=1,
                     label_text_font="Liberation Sans", label_text_font_size="18px", label_text_color="black",
                     label_height=20, glyph_height=20, glyph_width=16, padding=9, spacing=3, margin=0,
                     label_standoff=6, background_fill_alpha=1))
label(C2, [zx(720)], [(1198 - 1037.7) / PX_PER_PC2], ["PC1"], "21px", align="center")
label(C2, [zx(130)], [(1139 - 1037.7) / PX_PER_PC2], ["PC3"], "21px", align="center")
label(C2, [zx(1245)], [(1040 - 1037.7) / PX_PER_PC2], ["PC2"], "21px", align="center")

page = column(A, row(B, column(C1, C2, spacing=0), spacing=0), spacing=0)
open("out.html", "w").write(file_html(page, INLINE))
